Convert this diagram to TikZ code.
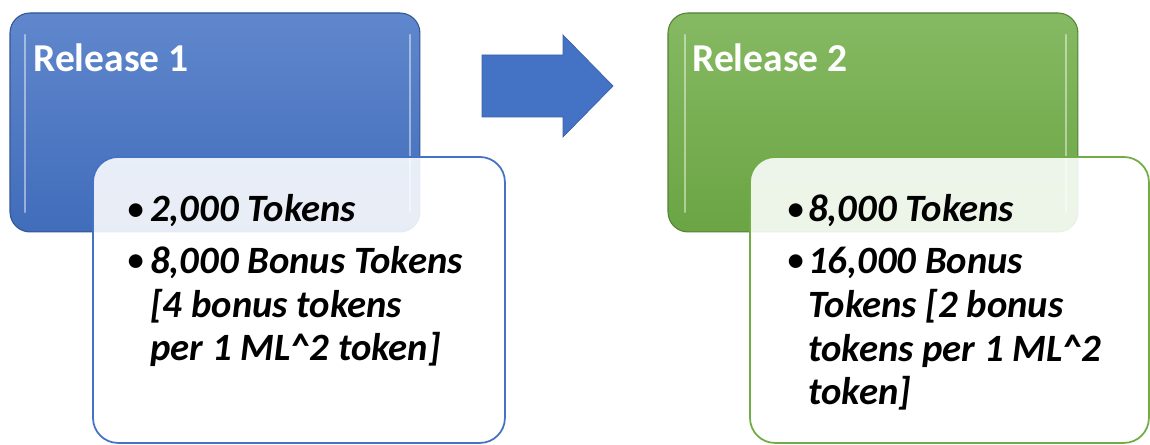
\documentclass[tikz,border=0pt]{standalone}
\usepackage{fontspec}
\setmainfont{Carlito}
\definecolor{relblue}{HTML}{4472C4}
\definecolor{relgreen}{HTML}{70AD47}
\begin{document}
\begin{tikzpicture}[x=0.02cm, y=-0.02cm,
  release/.style={rounded corners=0.4cm, draw=#1!75!black, line width=0.6pt,
    top color=#1!85!white, bottom color=#1!95!black, inner sep=0, outer sep=0,
    anchor=north west, minimum width=8.2cm, minimum height=4.38cm},
  detail/.style={rounded corners=0.5cm, draw=#1, line width=1pt, fill=white,
    fill opacity=0.88, inner sep=0, outer sep=0, anchor=north west,
    minimum height=5.72cm},
  gloss/.style={white, opacity=0.45, line width=1.5pt, line cap=round},
  head/.style={anchor=base west, inner sep=0, text=white,
    font=\fontsize{22.5}{27}\selectfont\bfseries},
  item/.style={anchor=base west, inner sep=0, align=left,
    font=\fontsize{22}{25}\selectfont\bfseries\itshape},
  dot/.style={anchor=base west, inner sep=0, font=\fontsize{22}{25}\selectfont}]
\useasboundingbox (0,0) rectangle (1150,445);
% release 1
\node[release=relblue] (rel1) at (10,13) {};
\draw[gloss] (25,35) -- (25,212);
\draw[gloss] (410,35) -- (410,212);
\node[head] (title1) at (33,72) {Release 1};
\node[detail=relblue, minimum width=8.24cm] (box1) at (93,157) {};
\node[dot] (dot1a) at (126,222) {\textbullet};
\node[item] (text1a) at (150,222) {2,000 Tokens};
\node[dot] (dot1b) at (126,273) {\textbullet};
% base anchor sits on the last line
\node[item] (text1b) at (150,361) {8,000 Bonus Tokens\\{[}4 bonus tokens\\per 1 ML\textasciicircum 2 token{]}};
% arrow
\filldraw[fill=relblue, draw=relblue!85!black, line width=0.4pt]
  (482,55) -- (563,55) -- (563,35) -- (613,86) -- (563,137) -- (563,117) -- (482,117) -- cycle;
% release 2
\node[release=relgreen] (rel2) at (668,13) {};
\draw[gloss] (685,35) -- (685,212);
\draw[gloss] (1066,35) -- (1066,212);
\node[head] (title2) at (692,72) {Release 2};
\node[detail=relgreen, minimum width=7.98cm] (box2) at (750,157) {};
\node[dot] (dot2a) at (786,222) {\textbullet};
\node[item] (text2a) at (808,222) {8,000 Tokens};
\node[dot] (dot2b) at (786,273) {\textbullet};
\node[item] (text2b) at (808,405) {16,000 Bonus\\Tokens {[}2 bonus\\tokens per 1 ML\textasciicircum 2\\token{]}};
\end{tikzpicture}
\end{document}
